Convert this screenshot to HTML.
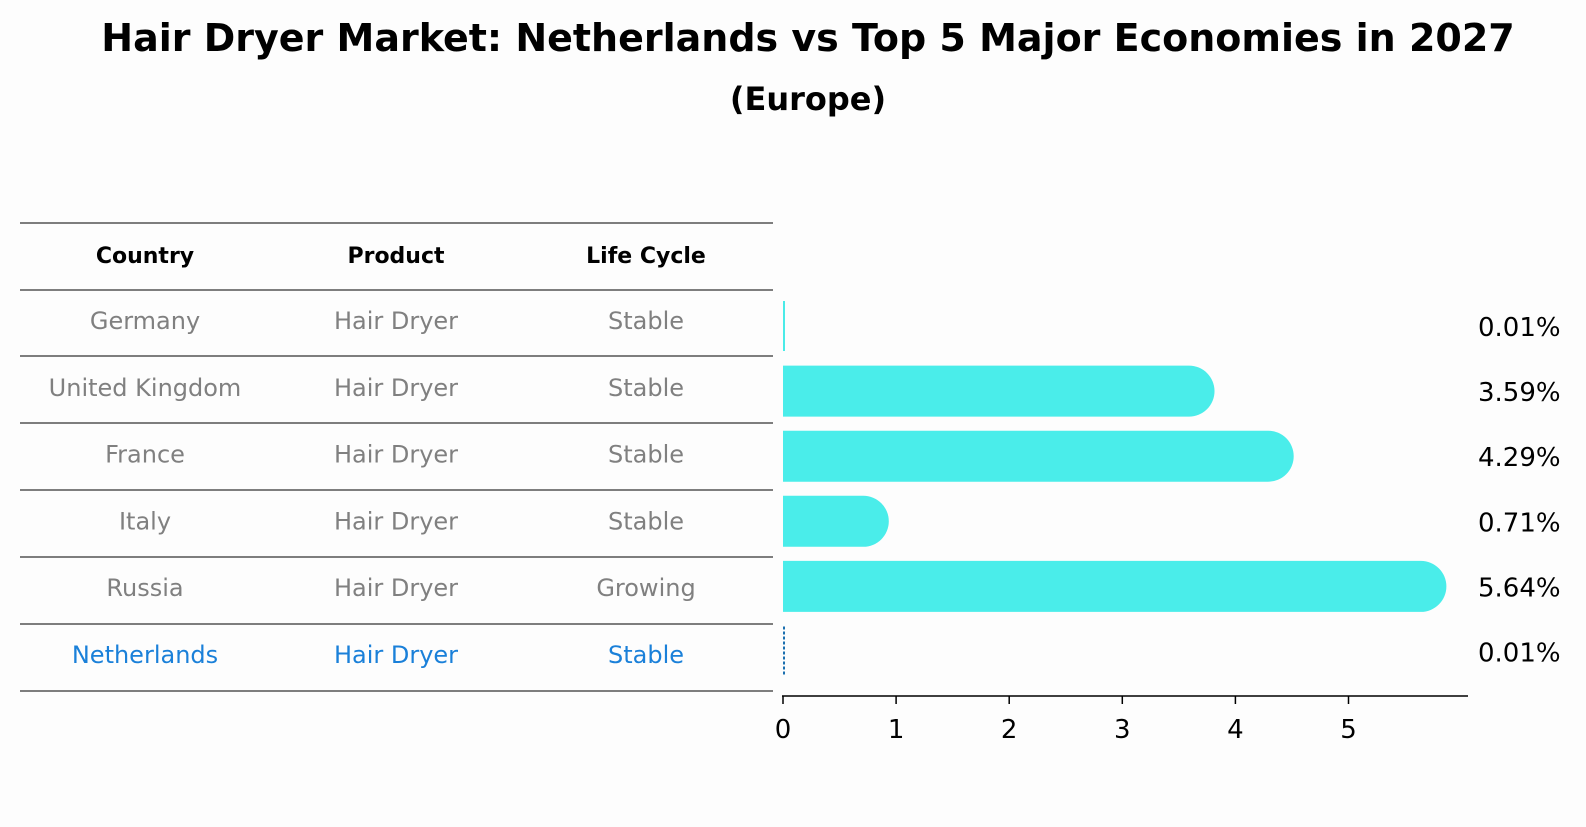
<!DOCTYPE html>
<html><head><meta charset="utf-8"><style>
body{margin:0;background:#fdfdfd;width:1586px;height:823px;overflow:hidden;font-family:"DejaVu Sans","Liberation Sans",sans-serif}
</style></head><body>
<svg width="1586" height="823">
<text x="808" y="51" text-anchor="middle" font-size="38" font-weight="bold">Hair Dryer Market: Netherlands vs Top 5 Major Economies in 2027</text>
<text x="808" y="110" text-anchor="middle" font-size="32" font-weight="bold">(Europe)</text>
<g id="table"></g>
<g id="bars"></g>
</svg>
<script>
const countries=["Germany","United Kingdom","France","Italy","Russia","Netherlands"];
const products=["Hair Dryer","Hair Dryer","Hair Dryer","Hair Dryer","Hair Dryer","Hair Dryer"];
const lifecycle=["Stable","Stable","Stable","Stable","Growing","Stable"];
const values=[0.01,3.59,4.29,0.71,5.64,0.01];
const valueLabels=["0.01%","3.59%","4.29%","0.71%","5.64%","0.01%"];
const ticks=[0,1,2,3,4,5];
const NS="http://www.w3.org/2000/svg";
function mk(t,a,p,txt){const e=document.createElementNS(NS,t);for(const k in a)e.setAttribute(k,a[k]);if(txt!==undefined)e.textContent=txt;p.appendChild(e);return e;}
const tbl=document.getElementById('table'),bars=document.getElementById('bars');
const x=v=>783+v*113.1, rowY=i=>320+i*65.1;
const cols=[145,396,646];
const lineYs=[223,290,356,423,490,557,624,691];
lineYs.forEach(y=>{const l=mk('line',{x1:20,x2:773,y1:y,y2:y,stroke:'#000','stroke-width':1},tbl);

});
["Country","Product","Life Cycle"].forEach((h,j)=>{const t=mk('text',{x:cols[j],y:263,'text-anchor':'middle','font-size':22,'font-weight':'bold'},tbl,h);

});
countries.forEach((c,i)=>{const col=i===5?'#1a80d9':'#808080';
const ty=329+i*66.8;
[c,products[i],lifecycle[i]].forEach((s,j)=>{const t=mk('text',{x:cols[j],y:ty,'text-anchor':'middle','font-size':24,fill:col},tbl,s);

});
const v=values[i],cy=rowY(i)+6,h=51,r=25.5;
let b;
if(x(v)-x(0)<3){b=mk('line',{x1:x(0)+1,x2:x(0)+1,y1:cy-25,y2:cy+25,stroke:i===5?'#1a6fb0':'#4aebe8','stroke-width':2,'stroke-dasharray':i===5?'3,2':'none'},bars);}
else{b=mk('path',{d:`M${x(0)},${cy-h/2} H${x(v)} A${r},${r} 0 0 1 ${x(v)},${cy+h/2} H${x(0)} Z`,fill:'#4aedea'},bars);}


const t=mk('text',{x:1478,y:cy+10,'font-size':26},bars,valueLabels[i]);

});
const ax=mk('line',{x1:782,x2:1468,y1:696,y2:696,stroke:'#000','stroke-width':1.5},bars);


ticks.forEach(v=>{const tk=mk('line',{x1:x(v),x2:x(v),y1:696,y2:704,stroke:'#000','stroke-width':1.5},bars);


const t=mk('text',{x:x(v),y:738,'text-anchor':'middle','font-size':26},bars,String(v));

});
</script>
</body></html>
